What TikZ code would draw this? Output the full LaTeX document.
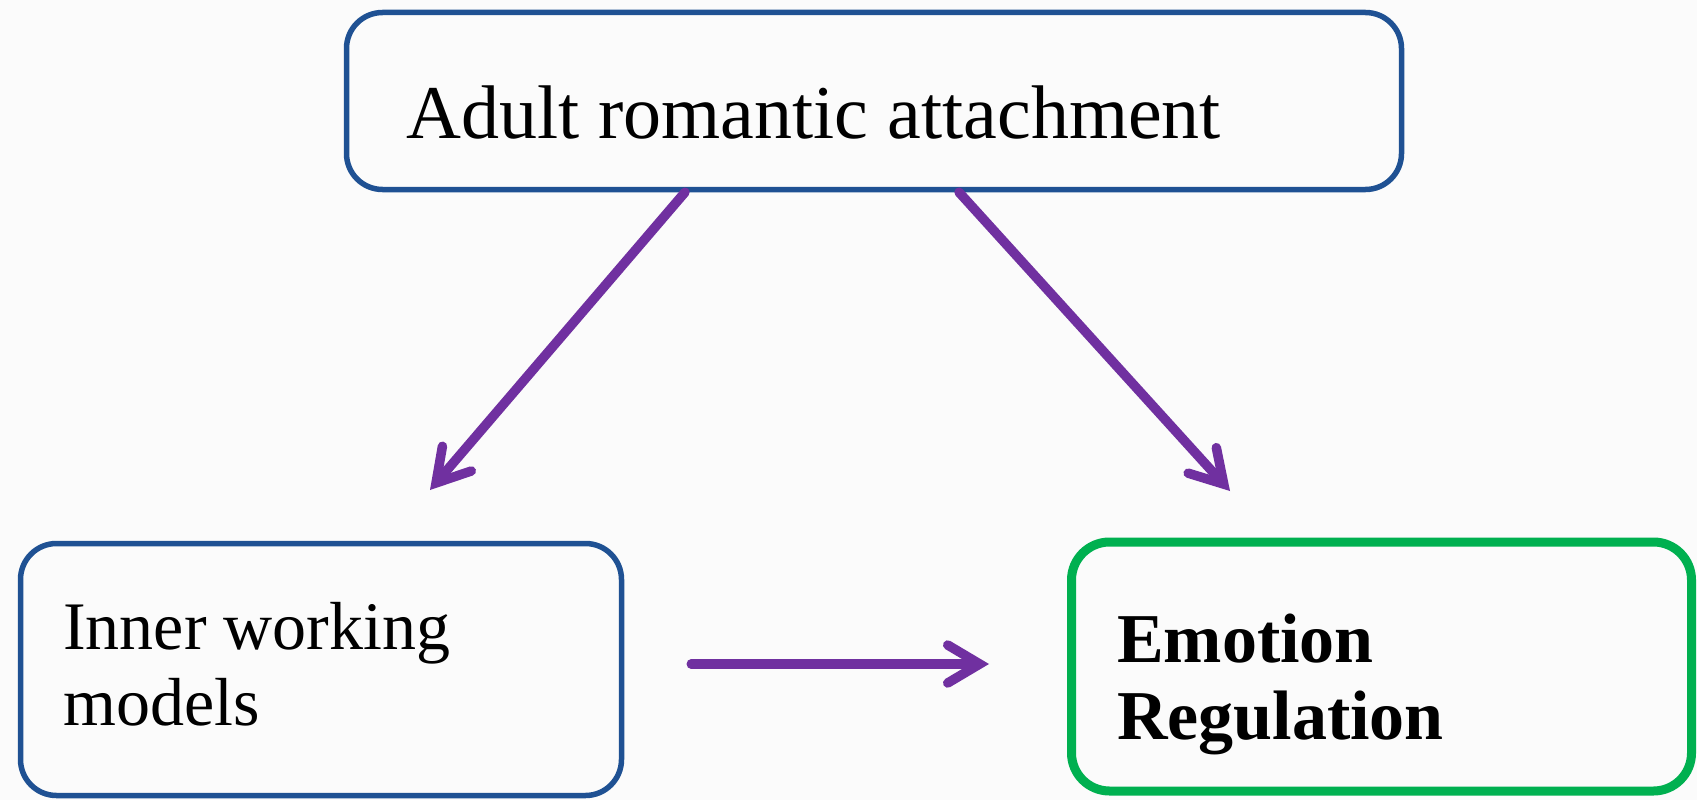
\documentclass[tikz,border=0pt]{standalone}
\usepackage{fontspec}
\setmainfont{Liberation Serif}
\usetikzlibrary{arrows.meta, calc}
\definecolor{bblue}{HTML}{1F5193}
\definecolor{bgreen}{HTML}{00B050}
\definecolor{apurple}{HTML}{7030A0}
\tikzset{%
    box/.style={draw=bblue, line width=5.5pt, rounded corners=36pt, inner sep=0pt},
    boxg/.style={draw=bgreen, line width=9pt, rounded corners=38pt, inner sep=0pt},
    txt/.style={inner sep=0pt, anchor=base west, font=\fontsize{68}{76}\selectfont},
    pria/.style={draw=apurple, line width=9.5pt, line cap=round,
        -{Straight Barb[length=32pt, width=38pt, line cap=round]}},
}
\begin{document}
\begin{tikzpicture}[x=1pt, y=-1pt]
    \fill [gray!3] (0,0) rectangle (1697,800);
    \useasboundingbox (0,0) rectangle (1697,800);
    % boxes
    \node [box, minimum width=1055pt, minimum height=177pt] (attach) at (874,101) {};
    \node [box, minimum width=601pt, minimum height=252pt] (iwm) at (321,669.5) {};
    \node [boxg, minimum width=620pt, minimum height=249pt] (emo) at (1381.5,666.5) {};
    % texts
    \node [txt, font=\fontsize{76}{76}\selectfont] (attachtxt) at (406,138.5) {Adult romantic attachment};
    \node [txt] (iwmtxt) at (63,649) {Inner working};
    \node [txt] (iwmtxtb) at (63,725) {models};
    \node [txt, font=\fontsize{70}{76}\selectfont\bfseries] (emotxt) at (1117,662) {Emotion};
    \node [txt, font=\fontsize{70}{76}\selectfont\bfseries] (emotxtb) at (1117,739) {Regulation};
    % arrows
    \coordinate (ta) at (430,490);
    \coordinate (tb) at (1230,491);
    \coordinate (tc) at (989,664);
    \draw [pria] ([xshift=-189pt]attach.south) -- (ta);
    \draw [pria] ([xshift=85pt]attach.south) -- (tb);
    \draw [pria] ([xshift=67pt, yshift=5.5pt]iwm.east) -- (tc);
\end{tikzpicture}
\end{document}
